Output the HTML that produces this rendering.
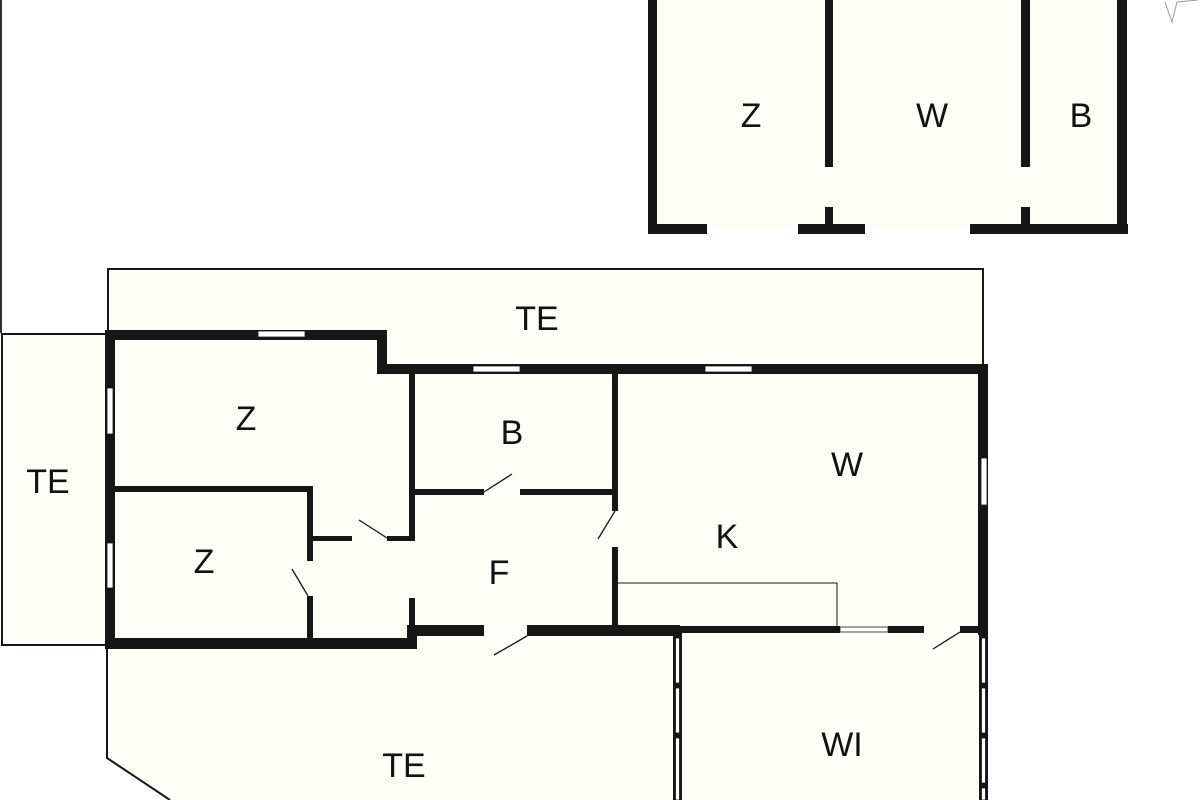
<!DOCTYPE html>
<html><head><meta charset="utf-8"><style>
html,body{margin:0;padding:0;background:#fff;}
svg{display:block;}
text{font-family:"Liberation Sans",sans-serif;font-size:34px;fill:#111;text-anchor:middle;}
</style></head><body>
<svg width="1200" height="800" viewBox="0 0 1200 800" xmlns="http://www.w3.org/2000/svg">
<rect x="0" y="0" width="1200" height="800" fill="#fff"/>
<line x1="1" y1="0" x2="1" y2="333" stroke="#333" stroke-width="2"/>
<!-- upper building -->
<rect x="652" y="0" width="470" height="229" fill="#fefef8"/>
<g fill="#161616">
<rect x="648" y="0" width="9" height="234"/>
<rect x="648" y="224" width="59" height="10"/>
<rect x="798" y="224" width="67" height="10"/>
<rect x="970" y="224" width="158" height="10"/>
<rect x="1117" y="0" width="10" height="234"/>
<rect x="825" y="0" width="8" height="167"/>
<rect x="825" y="207" width="8" height="27"/>
<rect x="1021" y="0" width="9" height="167"/>
<rect x="1021" y="207" width="9" height="27"/>
</g>
<polyline points="1165,2 1172,22 1177,2" fill="none" stroke="#999" stroke-width="1"/>
<line x1="1177" y1="2" x2="1198" y2="0" stroke="#999" stroke-width="1"/>
<!-- terraces -->
<rect x="108" y="269" width="875" height="96" fill="#fefef8" stroke="#161616" stroke-width="2"/>
<rect x="2" y="334" width="104" height="311" fill="#fefef8" stroke="#161616" stroke-width="2"/>
<polygon points="107,640 680,630 680,800 170,800 107,758" fill="#fefef8"/>
<polyline points="107,645 107,758 170,800" fill="none" stroke="#161616" stroke-width="2"/>
<rect x="680" y="630" width="304" height="172" fill="#fefef8"/>
<!-- main interior fill -->
<polygon points="110,335 382,335 382,369 983,369 983,631 412,631 412,643 110,643" fill="#fefef8"/>
<g fill="#161616">
<rect x="105" y="330" width="282" height="10"/>
<rect x="377" y="330" width="10" height="44"/>
<rect x="377" y="364" width="611" height="10"/>
<rect x="978" y="364" width="10" height="271"/>
<rect x="105" y="330" width="10" height="319"/>
<rect x="105" y="638" width="312" height="11"/>
<rect x="407" y="626" width="10" height="23"/>
<rect x="407" y="625" width="77" height="11"/>
<rect x="527" y="625" width="153" height="11"/>
<rect x="670" y="626" width="170" height="7"/>
<rect x="888" y="626" width="36" height="7"/>
<rect x="960" y="626" width="28" height="7"/>
<rect x="409" y="374" width="6" height="167"/>
<rect x="313" y="536" width="39" height="5"/>
<rect x="387" y="536" width="28" height="5"/>
<rect x="110" y="486" width="203" height="6"/>
<rect x="307" y="486" width="6" height="75"/>
<rect x="307" y="596" width="6" height="44"/>
<rect x="415" y="489" width="69" height="6"/>
<rect x="520" y="489" width="97" height="6"/>
<rect x="612" y="374" width="6" height="137"/>
<rect x="612" y="547" width="6" height="83"/>
<rect x="409" y="598" width="6" height="30"/>
<rect x="673" y="633" width="9" height="167"/>
<rect x="979" y="633" width="9" height="167"/>
</g>
<g fill="#fff" stroke="#161616" stroke-width="0.8">
<rect x="258" y="331" width="47" height="6"/>
<rect x="473" y="366" width="47" height="6"/>
<rect x="705" y="366" width="47" height="6"/>
<rect x="107" y="388" width="6" height="46"/>
<rect x="107" y="543" width="6" height="45"/>
<rect x="981" y="458" width="6" height="47"/>
<rect x="840" y="627" width="48" height="5"/>
<rect x="675.5" y="638" width="4" height="45"/>
<rect x="675.5" y="688" width="4" height="45"/>
<rect x="675.5" y="738" width="4" height="62"/>
<rect x="981.5" y="638" width="4" height="45"/>
<rect x="981.5" y="688" width="4" height="45"/>
<rect x="981.5" y="738" width="4" height="45"/>
<rect x="981.5" y="788" width="4" height="12"/>
</g>
<polyline points="618,583 837,583 837,628" fill="none" stroke="#161616" stroke-width="1"/>
<g stroke="#161616" stroke-width="1.3">
<line x1="387" y1="538" x2="359" y2="520"/>
<line x1="484" y1="492" x2="512" y2="474"/>
<line x1="615" y1="511" x2="598" y2="539"/>
<line x1="308" y1="596" x2="292" y2="569"/>
<line x1="527" y1="636" x2="494" y2="655"/>
<line x1="960" y1="632" x2="933" y2="649"/>
</g>
<text x="751" y="127">Z</text>
<text x="932" y="127">W</text>
<text x="1081" y="127">B</text>
<text x="537" y="330">TE</text>
<text x="48" y="493">TE</text>
<text x="246" y="430">Z</text>
<text x="512" y="444">B</text>
<text x="204" y="573">Z</text>
<text x="499" y="584">F</text>
<text x="727" y="548">K</text>
<text x="847" y="476">W</text>
<text x="842" y="756">WI</text>
<text x="404" y="777">TE</text>
</svg>
</body></html>
